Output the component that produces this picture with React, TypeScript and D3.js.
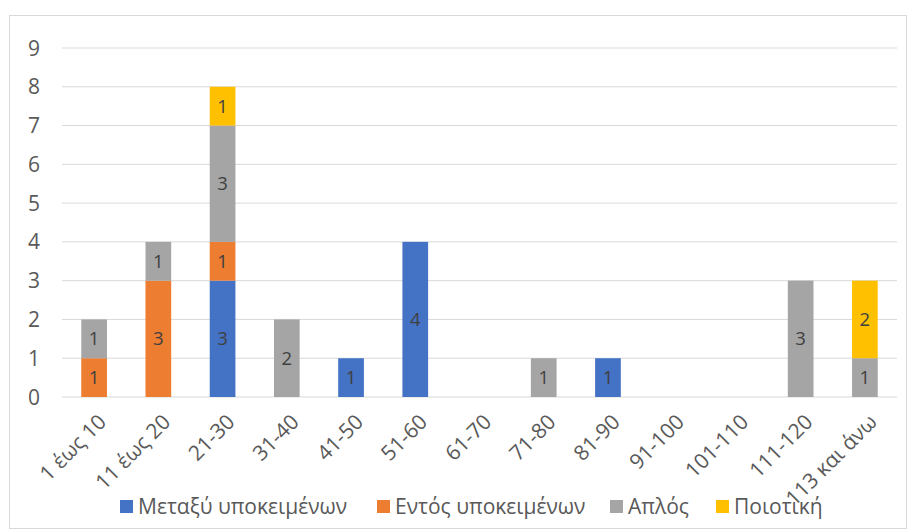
import React from "react";
import * as d3 from "d3";

const categories = ["1 έως 10", "11 έως 20", "21-30", "31-40", "41-50", "51-60", "61-70", "71-80", "81-90", "91-100", "101-110", "111-120", "113 και άνω"];
const seriesNames = ["Μεταξύ υποκειμένων", "Εντός υποκειμένων", "Απλός", "Ποιοτική"];
const between = [0, 0, 3, 0, 1, 4, 0, 0, 1, 0, 0, 0, 0];
const within = [1, 3, 1, 0, 0, 0, 0, 0, 0, 0, 0, 0, 0];
const simple = [1, 1, 3, 2, 0, 0, 0, 1, 0, 0, 0, 3, 1];
const quality = [0, 0, 1, 0, 0, 0, 0, 0, 0, 0, 0, 0, 2];
const yTicks = [0, 1, 2, 3, 4, 5, 6, 7, 8, 9];
const colors = ["#4472C4", "#ED7D31", "#A5A5A5", "#FFC000"];

const W = 911, H = 532;
const FONT = "'Open Sans', 'Noto Sans', sans-serif";

export default function App() {
  const x = d3.scaleBand().domain(categories).range([62, 897]).paddingInner(0.6).paddingOuter(0.3);
  const y = d3.scaleLinear().domain([0, 9]).range([397, 48]);
  const rows = categories.map((c, i) => ({ cat: c, s0: between[i], s1: within[i], s2: simple[i], s3: quality[i] }));
  const stack = d3.stack<any>().keys(["s0", "s1", "s2", "s3"]);
  const layers = stack(rows);

  const lpos = [120, 377, 610, 716];

  return (
    <svg width={W} height={H} style={{ position: "absolute", left: 0, top: 0, background: "#fff" }}>
      <rect x={9.5} y={15.5} width={897} height={513} fill="#fff" stroke="#D9D9D9" strokeWidth={1} />
      {yTicks.map((t) => (
        <g key={t}>
          <line x1={62} x2={897} y1={y(t)} y2={y(t)} stroke="#D9D9D9" strokeWidth={1} />
          <text x={40} y={y(t)} dy="0.36em" textAnchor="end" fontFamily={FONT} fontSize={21} fill="#595959">{t}</text>
        </g>
      ))}
      {layers.map((layer, li) => (
        <g key={li}>
          {layer.map((d, i) => {
            const v = d[1] - d[0];
            if (v <= 0) return null;
            const bx = x(categories[i])!;
            const by = y(d[1]);
            const bh = y(d[0]) - y(d[1]);
            return (
              <g key={i}>
                <rect x={bx} y={by} width={x.bandwidth()} height={bh} fill={colors[li]} />
                <text x={bx + x.bandwidth() / 2} y={by + bh / 2} dy="0.36em" textAnchor="middle" fontFamily={FONT} fontSize={18.5} fill="#404040">{v}</text>
              </g>
            );
          })}
        </g>
      ))}
      {categories.map((c) => {
        const cx = x(c)! + x.bandwidth() / 2 + 8;
        return (
          <text key={c} transform={`translate(${cx},${418}) rotate(-45)`} textAnchor="end" dy="0.36em" fontFamily={FONT} fontSize={21} fill="#595959">{c}</text>
        );
      })}
      {seriesNames.map((n, i) => (
        <g key={n} transform={`translate(${lpos[i]},${506.5})`}>
          <rect x={0} y={-6.5} width={13} height={13} fill={colors[i]} />
          <text x={18} y={0} dy="0.36em" fontFamily={FONT} fontSize={21} fill="#595959">{n}</text>
        </g>
      ))}
    </svg>
  );
}
